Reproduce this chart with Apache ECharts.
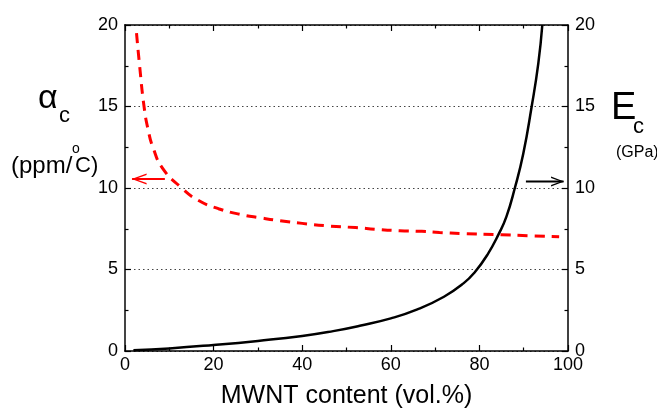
<!DOCTYPE html>
<html>
<head>
<meta charset="utf-8">
<script src="https://cdn.jsdelivr.net/npm/echarts@6/dist/echarts.min.js"></script>
<style>
  html, body { margin: 0; padding: 0; background: #fff; }
  #chart { width: 657px; height: 416px; }
</style>
</head>
<body>
<div id="chart"></div>
<script>
// thermal expansion coefficient (red dashed, left axis)
const alphaX = [2.6, 3.3, 4.3, 5.2, 6.3, 8.5, 12.6, 16.5, 21.1, 26, 30.8, 35, 40, 46, 52, 57, 62, 67, 71, 76, 85, 91, 98];
const alphaY = [19.5, 17.5, 15.0, 13.6, 12.5, 11.2, 10.05, 9.25, 8.73, 8.38, 8.16, 7.99, 7.83, 7.67, 7.57, 7.46, 7.38, 7.34, 7.27, 7.21, 7.13, 7.07, 7.01];

// modulus (black solid, right axis)
const modX = [1.9, 10, 20, 30, 40, 47, 53, 60, 66, 72, 76.4, 79, 81.8, 84.4, 86.1, 88, 89.9, 91.8, 93.3, 94.2];
const modY = [0.05, 0.16, 0.37, 0.62, 0.92, 1.22, 1.55, 2.0, 2.55, 3.33, 4.15, 4.85, 5.9, 7.2, 8.24, 10.0, 12.1, 15.0, 17.65, 20];

// arrows pointing to each axis: [fromX, toX, y]
const alphaArrow = [9, 1.6, 10.55];
const modArrow = [90.5, 99, 10.4];

const xTicks = { min: 0, max: 100, interval: 20 };
const yTicks = { min: 0, max: 20, interval: 5 };

const FONT = 'Liberation Sans, Arial, sans-serif';
const arrowLeft = 'path://M12,0 L0,5 L12,10 L12,8.6 L3,5 L12,1.4 Z';
const arrowRight = 'path://M0,0 L12,5 L0,10 L0,8.6 L9,5 L0,1.4 Z';

const zip = (xs, ys) => xs.map((x, i) => [x, ys[i]]);

const chart = echarts.init(document.getElementById('chart'));

function xAxisCfg(pos, showLabel) {
  return {
    type: 'value', position: pos, ...xTicks,
    axisLine: { show: true, onZero: false, lineStyle: { color: '#000', width: 1.5 } },
    axisTick: { show: true, inside: true, length: 6, lineStyle: { color: '#000', width: 1.2 } },
    minorTick: { show: true, splitNumber: 2, length: 3.5, lineStyle: { color: '#000', width: 1.2 } },
    axisLabel: { show: showLabel, color: '#000', fontSize: 18, fontFamily: FONT, margin: 5 },
    splitLine: { show: false }
  };
}

function yAxisCfg(pos, lineColor, lineWidth, grid) {
  return {
    type: 'value', position: pos, ...yTicks,
    axisLine: { show: true, onZero: false, lineStyle: { color: lineColor, width: lineWidth } },
    axisTick: { show: true, inside: true, length: 6, lineStyle: { color: '#000', width: 1.2 } },
    minorTick: { show: true, splitNumber: 2, length: 3.5, lineStyle: { color: '#000', width: 1.2 } },
    axisLabel: { color: '#000', fontSize: 18, fontFamily: FONT, margin: 7 },
    splitLine: { show: grid, lineStyle: { color: '#444', width: 1, type: [1.5, 3] } }
  };
}

// text label helper, anchored left / middle
const label = (x, y, text, size) => ({
  type: 'text', x, y,
  style: { text, font: size + 'px ' + FONT, fill: '#000', align: 'left', verticalAlign: 'middle' }
});

chart.setOption({
  animation: false,
  backgroundColor: '#fff',
  grid: { left: 125, right: 89, top: 25, bottom: 65 },
  xAxis: [
    Object.assign(xAxisCfg('bottom', true), {
      name: 'MWNT content (vol.%)', nameLocation: 'middle', nameGap: 33,
      nameTextStyle: { color: '#000', fontSize: 25, fontFamily: FONT }
    }),
    xAxisCfg('top', false)
  ],
  yAxis: [
    yAxisCfg('left', '#444', 2, true),
    yAxisCfg('right', '#000', 1.5, false)
  ],
  series: [
    {
      type: 'line', yAxisIndex: 0, smooth: 0.5, symbol: 'none',
      data: zip(alphaX, alphaY),
      lineStyle: { color: '#ff0000', width: 3, type: [10, 7] }
    },
    {
      type: 'line', yAxisIndex: 1, smooth: 0.5, symbol: 'none',
      data: zip(modX, modY),
      lineStyle: { color: '#000', width: 2.5 }
    },
    {
      type: 'line', yAxisIndex: 0, symbol: 'none',
      data: [
        [alphaArrow[0], alphaArrow[2]],
        { value: [alphaArrow[1], alphaArrow[2]], symbol: arrowLeft, symbolSize: [15, 11], symbolOffset: [7, 0] }
      ],
      itemStyle: { color: '#ff0000' },
      lineStyle: { color: '#ff0000', width: 2 }
    },
    {
      type: 'line', yAxisIndex: 1, symbol: 'none',
      data: [
        [modArrow[0], modArrow[2]],
        { value: [modArrow[1], modArrow[2]], symbol: arrowRight, symbolSize: [13, 10], symbolOffset: [-6, 0] }
      ],
      itemStyle: { color: '#000' },
      lineStyle: { color: '#000', width: 2 }
    }
  ],
  graphic: [
    label(38, 99, 'α', 34),
    label(59, 116, 'c', 22),
    label(11, 166, '(ppm/', 24),
    label(72, 149, 'o', 14),
    label(75, 166, 'C)', 22),
    label(611, 109, 'E', 38),
    label(633, 127, 'c', 22),
    label(616, 153, '(GPa)', 16)
  ]
});
</script>
</body>
</html>
